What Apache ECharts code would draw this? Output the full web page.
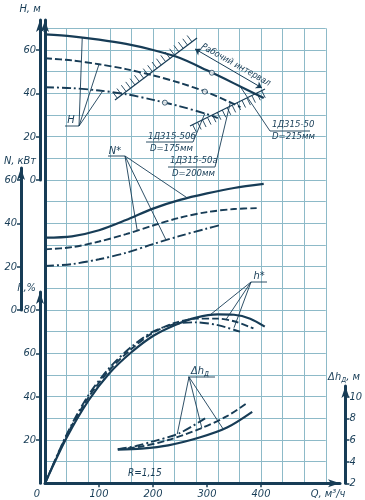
<!DOCTYPE html>
<html>
<head>
<meta charset="utf-8">
<script src="https://cdn.jsdelivr.net/npm/echarts@6/dist/echarts.min.js"></script>
<style>
  html, body { margin: 0; background: #fff; }
  #chart { width: 365px; height: 500px; }
</style>
</head>
<body>
<div id="chart"></div>
<script>
// tick labels
const qLabels = [0, 100, 200, 300, 400]
const headTicks = [0, 20, 40, 60]
const powerTicks = [0, 20, 40, 60]
const effTicks = [20, 40, 60, 80]
const npshTicks = [2, 4, 6, 8, 10]

// H(Q), м  -- 1Д315-50 (D=215), 1Д315-50а (D=200), 1Д315-50б (D=175)
const head215 = [[0, 67.2], [50, 66.3], [100, 64.8], [150, 62.8], [200, 60.0], [250, 56.3], [300, 50.6], [350, 44.6], [405, 37.8]]
const head200 = [[0, 56.2], [50, 55.2], [100, 53.4], [150, 51.2], [200, 48.3], [250, 44.8], [300, 40.5], [340, 36.2], [362, 33.6]]
const head175 = [[0, 42.8], [50, 42.4], [100, 41.3], [150, 39.6], [200, 37.0], [250, 34.0], [300, 30.4], [320, 28.6]]
const designPoints = [[309, 49.5], [296, 40.8], [222, 35.7]]

// N(Q), кВт
const power215 = [[0, 33.4], [50, 34.0], [100, 36.8], [150, 41.5], [200, 46.8], [250, 50.8], [300, 53.8], [350, 56.3], [405, 58.2]]
const power200 = [[0, 28.0], [50, 29.0], [100, 31.6], [150, 35.0], [200, 39.0], [250, 42.6], [300, 45.2], [350, 46.6], [392, 47.0]]
const power175 = [[0, 20.3], [50, 21.2], [100, 23.4], [150, 26.4], [200, 30.4], [250, 34.2], [300, 37.6], [327, 39.4]]

// h(Q), %
const eff215 = [[0, 0], [40, 21], [80, 38], [120, 51], [160, 60.5], [200, 68], [240, 73], [280, 76.5], [320, 78], [350, 77.8], [380, 76], [407, 72.3]]
const eff200 = [[0, 0], [40, 22], [80, 39.5], [120, 52.5], [160, 62], [200, 69.5], [240, 74], [280, 76], [320, 76], [350, 74.8], [386, 71.5]]
const eff175 = [[0, 0], [40, 22.5], [80, 40.5], [120, 53.5], [160, 63], [200, 70], [240, 73.5], [280, 74.3], [320, 73], [361, 70]]

// Δh_д(Q), м
const npsh215 = [[136, 5.1], [180, 5.2], [230, 5.5], [290, 6.25], [340, 7.15], [387, 8.6]]
const npsh200 = [[136, 5.15], [180, 5.4], [230, 6.0], [290, 7.05], [340, 8.2], [377, 9.4]]
const npsh175 = [[136, 5.15], [170, 5.45], [200, 5.85], [250, 6.6], [299, 8.0]]

// working interval boundaries [Q1, H1, Q2, H2, side]
const workBounds = [[129.6, 36.9, 281.5, 65.5, -1], [268.5, 24.9, 407.4, 42.0, 1]]
const workArrow = [[277.8, 60.5], [401.9, 42.5]]

const INK = '#173c56'
const GRIDC = '#8dbac8'
const FONT = "'Liberation Sans Narrow', 'DejaVu Sans Condensed', sans-serif"

// layout (px)
const cell = 21.667
const qPx = 0.54
const left = 45
const plotW = 280.8
const bottomY = 483.33

const chart = echarts.init(document.getElementById('chart'))

const grids = [
  { left: left, top: 28.33, width: plotW, height: bottomY - 28.33 }, // graph paper
  { left: left, top: 20, width: 295, height: bottomY - 20 },         // Q axis
  { left: left, top: 20, width: plotW, height: 160 },                // H
  { left: left, top: 168, width: plotW, height: 142 },               // N
  { left: left, top: 292, width: plotW, height: bottomY - 292 },     // h
  { left: left, top: 386, width: plotW, height: bottomY - 386 }      // Δh
]

const axisLine = {
  show: true,
  onZero: false,
  symbol: ['none', 'arrow'],
  symbolSize: [6, 12],
  lineStyle: { color: INK, width: 3 }
}
const labelStyle = { color: INK, fontSize: 11, fontStyle: 'italic', fontFamily: FONT }

const hiddenX = (i) => ({ gridIndex: i, type: 'value', min: 0, max: plotW / qPx, show: false })

const sideAxis = (i, min, max, ticks, offset, pos) => ({
  gridIndex: i,
  type: 'value',
  min: min,
  max: max,
  position: pos || 'left',
  offset: offset,
  axisLine: axisLine,
  axisTick: { show: true, customValues: ticks, length: 4, lineStyle: { color: INK, width: 1.5 } },
  axisLabel: Object.assign({ customValues: ticks, margin: 4 }, labelStyle),
  splitLine: { show: false }
})

const curve = (name, data, g, kind) => {
  const types = { solid: 'solid', dashed: [7, 3], dashdot: [9, 3, 2, 3] }
  return {
    name: name,
    type: 'line',
    xAxisIndex: g,
    yAxisIndex: g,
    data: data,
    smooth: 0.3,
    showSymbol: false,
    clip: false,
    silent: true,
    lineStyle: { color: INK, width: kind === 'solid' ? 2.2 : 1.9, type: types[kind] }
  }
}

function hatch(params, api) {
  const a = api.coord([api.value(0), api.value(1)])
  const b = api.coord([api.value(2), api.value(3)])
  const side = api.value(4)
  const dx = b[0] - a[0]
  const dy = b[1] - a[1]
  const len = Math.hypot(dx, dy)
  const ux = dx / len
  const uy = dy / len
  const nx = -uy * side
  const ny = ux * side
  const children = [{ type: 'line', shape: { x1: a[0], y1: a[1], x2: b[0], y2: b[1] }, style: { stroke: INK, lineWidth: 1.2 } }]
  for (let s = 3; s < len - 1; s += 5.5) {
    const x = a[0] + ux * s
    const y = a[1] + uy * s
    children.push({ type: 'line', shape: { x1: x, y1: y, x2: x + nx * 8, y2: y + ny * 8 }, style: { stroke: INK, lineWidth: 0.9 } })
  }
  return { type: 'group', children: children }
}

const option = {
  animation: false,
  backgroundColor: '#fff',
  grid: grids,
  xAxis: [
    {
      gridIndex: 0, type: 'value', min: 0, max: 520, interval: 40,
      axisLine: { show: false }, axisTick: { show: false }, axisLabel: { show: false },
      splitLine: { show: true, lineStyle: { color: GRIDC, width: 1 } }
    },
    {
      gridIndex: 1, type: 'value', min: 0, max: 295 / qPx,
      axisLine: axisLine,
      axisTick: { show: true, customValues: [100, 200, 300, 400], length: 4, lineStyle: { color: INK, width: 1.5 } },
      axisLabel: Object.assign({
        customValues: qLabels,
        margin: 5,
        formatter: (v) => v === 0 ? '{z|0}' : String(v),
        rich: { z: Object.assign({ padding: [0, 16, 0, 0] }, labelStyle) }
      }, labelStyle),
      splitLine: { show: false }
    },
    hiddenX(2), hiddenX(3), hiddenX(4), hiddenX(5)
  ],
  yAxis: [
    {
      gridIndex: 0, type: 'value', min: 0, max: 21, interval: 1,
      axisLine: { show: false }, axisTick: { show: false }, axisLabel: { show: false },
      splitLine: { show: true, lineStyle: { color: GRIDC, width: 1 } }
    },
    {
      gridIndex: 1, type: 'value', min: 0, max: 1,
      axisLine: axisLine, axisTick: { show: false }, axisLabel: { show: false }, splitLine: { show: false }
    },
    sideAxis(2, 0, 160 / (cell / 10), headTicks, 5),
    sideAxis(3, 0, 142 / (cell / 10), powerTicks, 24),
    sideAxis(4, 0, (bottomY - 292) / (cell / 10), effTicks, 5),
    sideAxis(5, 2, 2 + (bottomY - 386) / (cell / 2), npshTicks, 22, 'right')
  ],
  series: [
    curve('H 215', head215, 2, 'solid'),
    curve('H 200', head200, 2, 'dashed'),
    curve('H 175', head175, 2, 'dashdot'),
    curve('N 215', power215, 3, 'solid'),
    curve('N 200', power200, 3, 'dashed'),
    curve('N 175', power175, 3, 'dashdot'),
    curve('h 215', eff215, 4, 'solid'),
    curve('h 200', eff200, 4, 'dashed'),
    curve('h 175', eff175, 4, 'dashdot'),
    curve('dh 215', npsh215, 5, 'solid'),
    curve('dh 200', npsh200, 5, 'dashed'),
    curve('dh 175', npsh175, 5, 'dashdot'),
    {
      type: 'scatter', xAxisIndex: 2, yAxisIndex: 2, data: designPoints,
      symbol: 'circle', symbolSize: 5, z: 5, silent: true,
      itemStyle: { color: '#fff', borderColor: INK, borderWidth: 1 }
    },
    {
      type: 'custom', xAxisIndex: 2, yAxisIndex: 2, data: workBounds,
      renderItem: hatch, clip: false, silent: true
    },
    {
      type: 'lines', coordinateSystem: 'cartesian2d', xAxisIndex: 2, yAxisIndex: 2,
      data: [{ coords: workArrow }],
      symbol: ['arrow', 'arrow'], symbolSize: 6, silent: true,
      lineStyle: { color: INK, width: 1, opacity: 1 }
    }
  ]
}

chart.setOption(option)

const px = (g, p) => chart.convertToPixel({ gridIndex: g }, p)
const leader = (from, g, p) => {
  const to = px(g, p)
  return { type: 'line', shape: { x1: from[0], y1: from[1], x2: to[0], y2: to[1] }, style: { stroke: INK, lineWidth: 0.9 } }
}
const rule = (x1, x2, y) => ({ type: 'line', shape: { x1: x1, y1: y, x2: x2, y2: y }, style: { stroke: INK, lineWidth: 0.9 } })
const text = (t, x, y, align, size, extra) => ({
  type: 'text',
  style: Object.assign({
    text: t, x: x, y: y, fill: INK, align: align || 'left', verticalAlign: 'middle',
    font: 'italic ' + (size || 11) + 'px ' + FONT
  }, extra || {})
})
const sub = { rich: { a: { fontSize: 11, fontStyle: 'italic', fontFamily: FONT, fill: INK }, s: { fontSize: 8, fontStyle: 'italic', fontFamily: FONT, fill: INK, padding: [5, 0, 0, 0] } } }

const workLabel = text('Рабочий интервал', 0, 0, 'center', 9)
workLabel.x = 236
workLabel.y = 65
workLabel.rotation = -0.51

const graphic = [
  // axis names
  text('H, м', 30, 9, 'center'),
  text('N, кВт', 20, 161, 'center'),
  text('h,%', 36, 288, 'right'),
  text('{a|Δh}{s|д}{a|, м}', 344, 377, 'center', 11, sub),
  text('Q, м³/ч', 328, 494, 'center'),
  // H
  text('H', 71, 120, 'center'),
  rule(65, 79, 126),
  leader([79, 126], 2, [69, 65.8]),
  leader([79, 126], 2, [100, 53.4]),
  leader([79, 126], 2, [107, 41.1]),
  // N*
  text('N*', 115, 151, 'center'),
  rule(108, 125, 156),
  leader([125, 156], 3, [263, 51.8]),
  leader([125, 156], 3, [171, 36.4]),
  leader([125, 156], 3, [224, 32.4]),
  // h*
  text('h*', 259, 276, 'center'),
  rule(251, 267, 282),
  leader([251, 282], 4, [305, 77.6]),
  leader([251, 282], 4, [335, 75.5]),
  leader([251, 282], 4, [350, 71.8]),
  // Δh_д
  text('{a|Δh}{s|д}', 200, 371, 'center', 11, sub),
  rule(188, 215, 377),
  leader([189, 377], 5, [247, 6.55]),
  leader([189, 377], 5, [293, 7.1]),
  leader([189, 377], 5, [333, 7.0]),
  // pump marks
  text('1Д315-50б', 148, 137, 'left', 9.5),
  rule(146, 193, 142),
  text('D=175мм', 150, 149, 'left', 9.5),
  leader([193, 142], 2, [296, 30.7]),
  text('1Д315-50а', 170, 161, 'left', 9.5),
  rule(168, 215, 167),
  text('D=200мм', 172, 174, 'left', 9.5),
  leader([215, 167], 2, [343, 35.6]),
  text('1Д315-50', 272, 125, 'left', 9.5),
  rule(270, 310, 131),
  text('D=215мм', 272, 137, 'left', 9.5),
  leader([270, 131], 2, [361, 43.3]),
  // working interval
  workLabel,
  text('R=1,15', 128, 473, 'left', 10)
]

chart.setOption({ graphic: graphic })
</script>
</body>
</html>
